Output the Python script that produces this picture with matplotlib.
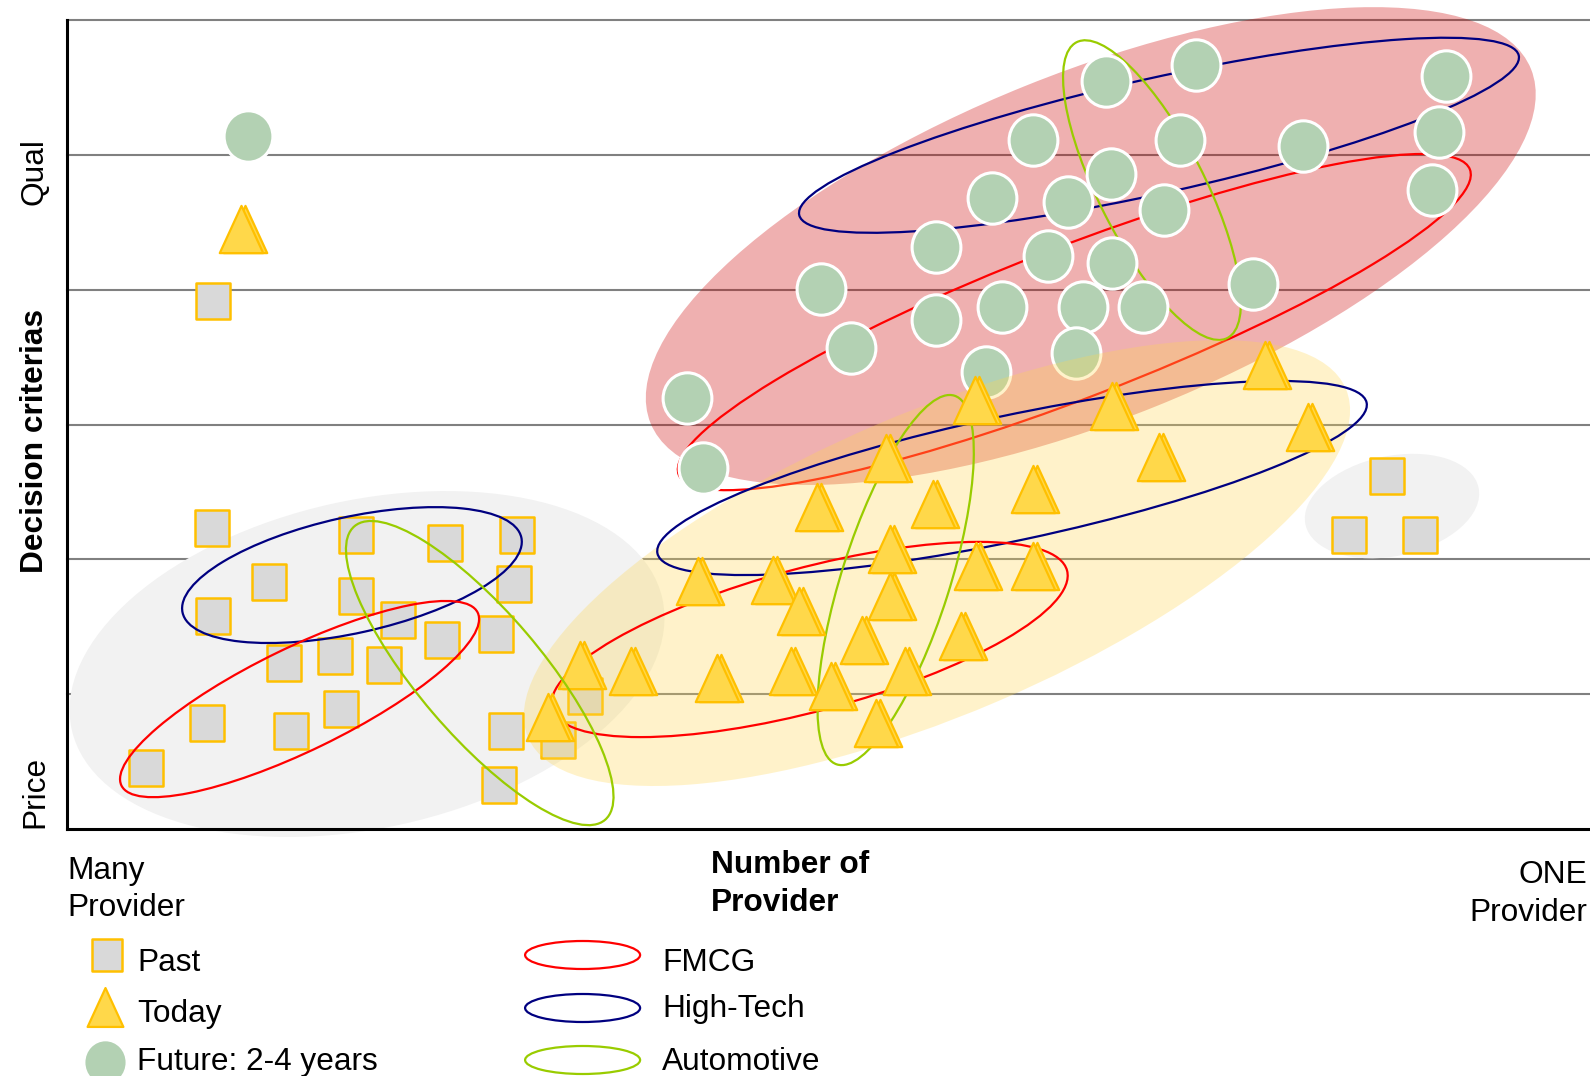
import numpy as np
import matplotlib
matplotlib.use("Agg")
import matplotlib.pyplot as plt
from matplotlib.patches import Ellipse
from matplotlib.path import Path
import matplotlib.transforms as mtransforms

# ---------------- data ----------------
# x: 0 = "Many Provider" ... 100 = "ONE Provider";  y: 0 = Price ... 6 = Quality
past_x = [9.51, 18.97, 24.83, 29.55, 13.24, 29.35, 18.97, 9.58, 21.76, 24.63, 28.16,
          14.24, 17.57, 20.83, 9.18, 14.71, 17.97, 5.19, 28.82, 28.36, 32.22, 34.01,
          86.68, 84.15, 88.87, 9.58]
past_y = [2.23, 2.18, 2.12, 2.18, 1.83, 1.82, 1.73, 1.58, 1.55, 1.40, 1.45,
          1.23, 1.28, 1.22, 0.79, 0.73, 0.89, 0.45, 0.73, 0.33, 0.66, 0.99,
          2.62, 2.18, 2.18, 3.92]

today_x = [11.45, 33.68, 37.01, 31.55, 41.40, 42.67, 46.33, 48.06, 47.53, 50.19,
           49.26, 52.19, 54.05, 54.05, 53.79, 56.85, 55.05, 53.12, 58.71, 59.71,
           59.65, 63.44, 63.44, 68.63, 71.70, 78.69, 81.48]
today_y = [4.45, 1.22, 1.17, 0.83, 1.84, 1.12, 1.85, 1.62, 1.17, 1.06,
           2.39, 1.40, 1.73, 2.08, 2.75, 2.41, 1.17, 0.79, 1.43, 1.95,
           3.18, 1.95, 2.52, 3.14, 2.76, 3.44, 2.98]

future_x = [11.91, 68.24, 74.16, 90.54, 63.44, 73.10, 90.07, 81.15, 60.71, 65.71,
            68.57, 72.03, 89.61, 57.05, 64.44, 68.63, 77.89, 49.53, 57.05, 61.38,
            66.70, 70.63, 51.46, 60.31, 66.24, 40.74, 41.74]
future_y = [5.14, 5.55, 5.67, 5.59, 5.11, 5.11, 5.17, 5.07, 4.68, 4.65,
            4.86, 4.59, 4.74, 4.32, 4.25, 4.20, 4.04, 4.01, 3.78, 3.87,
            3.87, 3.87, 3.57, 3.39, 3.53, 3.20, 2.68]

grid_levels = [1, 2, 3, 4, 5, 6]
period_labels = ["Past", "Today", "Future: 2-4 years"]
industry_labels = ["FMCG", "High-Tech", "Automotive"]

# --------------- layout / style ---------------
W, H, DPI = 1590, 1076, 100
FS = 22.75
FONT = ["Liberation Sans", "DejaVu Sans"]
plt.rcParams["font.family"] = FONT

C_SQ_FACE, C_GOLD = "#d9d9d9", "#ffc000"
C_TRI = "#ffd84a"
C_CIRC = "#b3d1b3"
C_IND = {"FMCG": "#ff0000", "High-Tech": "#000080", "Automotive": "#99cc00"}

# shaded cluster regions: center (data), width/height (px), angle (deg)
shade_regions = [
    dict(c=(19.70, 1.224), w=605, h=328, a=12.5, fc="#f2f2f2", alpha=1.0, z=1.0),
    dict(c=(87.0, 2.396), w=177, h=100, a=12.0, fc="#f2f2f2", alpha=1.0, z=1.0),
    dict(c=(67.22, 4.325), w=949, h=346, a=21.9, fc="#cc0000", alpha=0.31, z=1.1),
    dict(c=(57.12, 1.973), w=889, h=302, a=23.1, fc="#ffd750", alpha=0.30, z=3.0),
]
# industry outlines per period cluster
outline_regions = [
    ("High-Tech", (18.71, 1.884), 347, 116, 12.5, 5.0),
    ("FMCG", (15.27, 0.964), 396, 103, 25.9, 5.0),
    ("Automotive", (27.10, 1.157), 386, 123, -49.5, 5.0),
    ("High-Tech", (62.05, 2.604), 725, 125, 12.0, 3.5),
    ("FMCG", (48.76, 1.406), 533, 143, 15.0, 3.5),
    ("Automotive", (54.41, 1.847), 387, 108, 72.3, 3.5),
    ("High-Tech", (71.70, 5.147), 737, 115, 12.5, 1.8),
    ("FMCG", (66.14, 3.761), 848, 151, 21.1, 1.8),
    ("Automotive", (71.24, 4.740), 332, 106, -63.0, 1.8),
]

fig = plt.figure(figsize=(W / DPI, H / DPI), dpi=DPI)
ax = fig.add_axes([67 / W, 1 - 829 / H, (W - 67) / W, (829 - 20.3) / H])
ax.set_xlim(0, 100)
ax.set_ylim(0, 6)
ax.set_xticks([])
ax.set_yticks([])
ax.patch.set_visible(False)
for s in ["top", "right"]:
    ax.spines[s].set_visible(False)
for s in ["left", "bottom"]:
    ax.spines[s].set_linewidth(2.2)
    ax.spines[s].set_zorder(10)

for yv in grid_levels:
    ax.axhline(yv, color="#808080", lw=1.5, zorder=0.5, clip_on=False)


def px_ellipse(center, w, h, angle, **kw):
    tr = mtransforms.IdentityTransform() + mtransforms.ScaledTranslation(
        center[0], center[1], ax.transData)
    e = Ellipse((0, 0), w, h, angle=angle, transform=tr, clip_on=False, **kw)
    ax.add_patch(e)
    return e


for r in shade_regions:
    px_ellipse(r["c"], r["w"], r["h"], r["a"], facecolor=r["fc"], alpha=r["alpha"],
               edgecolor="none", zorder=r["z"])

for name, c, w, h, a, z in outline_regions:
    px_ellipse(c, w, h, a, facecolor="none", edgecolor=C_IND[name], lw=1.6, zorder=z)

# marker shapes
sq_marker = Path([(-0.46, -0.5), (0.46, -0.5), (0.46, 0.5), (-0.46, 0.5), (-0.46, -0.5)],
                 closed=True)
tri_marker = Path([(0, 0.5), (-0.46, -0.5), (0.46, -0.5), (0, 0.5)], closed=True)
uc = Path.unit_circle()
circ_marker = Path(uc.vertices * np.array([0.95, 1.0]), uc.codes)

ax.plot(past_x, past_y, ls="none", marker=sq_marker, ms=26, mfc=C_SQ_FACE, mec=C_GOLD,
        mew=1.8, zorder=2, clip_on=False)
ax.plot(future_x, future_y, ls="none", marker=circ_marker, ms=37, mfc=C_CIRC, mec="white",
        mew=2.2, zorder=2.2, clip_on=False)
shadow = ax.transData + mtransforms.ScaledTranslation(0.04, 0, fig.dpi_scale_trans)
ax.plot(today_x, today_y, ls="none", marker=tri_marker, ms=34, mfc=C_TRI, mec=C_GOLD,
        mew=1.6, zorder=3.9, transform=shadow, clip_on=False)
ax.plot(today_x, today_y, ls="none", marker=tri_marker, ms=34, mfc=C_TRI, mec=C_GOLD,
        mew=1.6, zorder=4, clip_on=False)

# ------------- overlay for labels and legend (pixel coordinates) -------------
lax = fig.add_axes([0, 0, 1, 1], zorder=5)
lax.set_xlim(0, W)
lax.set_ylim(H, 0)
lax.axis("off")
lax.patch.set_visible(False)

# y-axis labels
lax.text(43, 172, "Qual", rotation=90, rotation_mode="anchor", ha="center",
         va="baseline", fontsize=FS)
lax.text(43, 441, "Decision criterias", rotation=90, rotation_mode="anchor",
         ha="center", va="baseline", fontsize=FS, fontweight="bold")
lax.text(43, 792, "Price", rotation=90, rotation_mode="anchor", ha="center",
         va="baseline", fontsize=FS)

# x-axis labels
lax.text(67, 879, "Many", fontsize=FS, va="baseline")
lax.text(67, 916.5, "Provider", fontsize=FS, va="baseline")
lax.text(711, 873, "Number of", fontsize=FS, va="baseline", fontweight="bold")
lax.text(711, 911, "Provider", fontsize=FS, va="baseline", fontweight="bold")
lax.text(1587, 883, "ONE", fontsize=FS, va="baseline", ha="right")
lax.text(1587, 921, "Provider", fontsize=FS, va="baseline", ha="right")

# legend: periods
sq_l = Path([(-0.47, -0.5), (0.47, -0.5), (0.47, 0.5), (-0.47, 0.5), (-0.47, -0.5)], closed=True)
lax.plot([106.5], [955], marker=sq_l, ms=22.5, mfc=C_SQ_FACE, mec=C_GOLD, mew=1.8, ls="none")
lax.plot([105], [1007], marker=tri_marker, ms=28, mfc=C_TRI, mec=C_GOLD, mew=1.6, ls="none")
lax.plot([105], [1062], marker=circ_marker, ms=32, mfc=C_CIRC, mec="white", mew=1.5,
         ls="none", clip_on=True)
for lab, yb in zip(period_labels, [971, 1022, 1070]):
    lax.text(137, yb, lab, fontsize=FS, va="baseline")

# legend: industries
for lab, yc, yb in zip(industry_labels, [955, 1008, 1060], [971, 1017, 1070]):
    lax.add_patch(Ellipse((582.6, yc), 115, 28, facecolor="none", edgecolor=C_IND[lab],
                          lw=1.6))
    lax.text(662, yb, lab, fontsize=FS, va="baseline")

fig.savefig("out.png", dpi=DPI)
